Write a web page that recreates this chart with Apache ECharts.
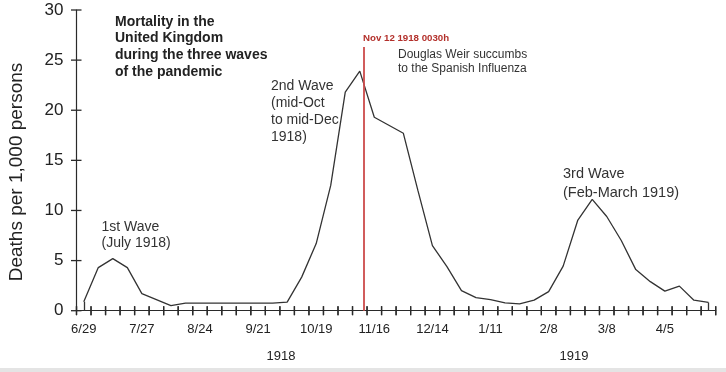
<!DOCTYPE html>
<html>
<head>
<meta charset="utf-8">
<script src="https://cdn.jsdelivr.net/npm/echarts@6/dist/echarts.min.js"></script>
<style>
html,body{margin:0;padding:0;background:#fff;}
#c{width:726px;height:372px;}
</style>
</head>
<body>
<div id="c"></div>
<script>
var categories = ['6/29','7/6','7/13','7/20','7/27','8/3','8/10','8/17','8/24','8/31','9/7','9/14','9/21','9/28','10/5','10/12','10/19','10/26','11/2','11/9','11/16','11/23','11/30','12/7','12/14','12/21','12/28','1/4','1/11','1/18','1/25','2/1','2/8','2/15','2/22','3/1','3/8','3/15','3/22','3/29','4/5','4/12','4/19','4/26'];
var deaths = [0.9,4.3,5.2,4.3,1.7,1.1,0.5,0.75,0.75,0.75,0.75,0.75,0.75,0.75,0.85,3.35,6.7,12.5,21.8,23.9,19.3,18.5,17.7,12.0,6.5,4.4,2.0,1.3,1.1,0.78,0.68,1.05,1.9,4.45,9.0,11.1,9.4,7.0,4.1,2.9,1.95,2.45,1.05,0.82];
var yTicks = [0,5,10,15,20,25,30];
var redLineX = 19.3;      // position of Nov 12 1918 on the week index scale
var redLineTop = 26.3;
var yearLabels = ['1918','1919'];

var FONT = "'Liberation Sans', Arial, Helvetica, sans-serif";
var chart = echarts.init(document.getElementById('c'), null, {renderer:'canvas'});
var lineColor = '#333333';
var axisColor = '#2a2a2a';
var N = categories.length;

// week boundaries on the hidden value axis (-0.5, 0.5, ... N-0.5)
var boundaries = [];
for (var b = 0; b <= N; b++) boundaries.push([b - 0.5, 0]);

function xTickItem(params, api){
  var p = api.coord([api.value(0), 0]);
  return {type:'line', shape:{x1:p[0],y1:p[1]-4.5,x2:p[0],y2:p[1]+4.5}, style:{stroke:axisColor, lineWidth:1.3}};
}
function yTickItem(params, api){
  var p = api.coord([0, api.value(1)]);
  var x0 = params.coordSys.x;
  return {type:'line', shape:{x1:x0-5.5,y1:p[1],x2:x0+5,y2:p[1]}, style:{stroke:axisColor, lineWidth:1.3}};
}

var option = {
  animation:false,
  backgroundColor:'#ffffff',
  grid:{left:76.5, right:10.3, top:10, bottom:61.3, containLabel:false},
  xAxis:[
    {type:'category', data:categories, boundaryGap:true, position:'bottom',
     axisLine:{show:true, onZero:false, lineStyle:{color:axisColor, width:1.2}},
     axisTick:{show:false},
     axisLabel:{show:true, interval:3, margin:12, fontSize:13, color:'#222', fontFamily:FONT},
     splitLine:{show:false}},
    {type:'value', min:-0.5, max:N-0.5, show:false}
  ],
  yAxis:[
    {type:'value', min:yTicks[0], max:yTicks[yTicks.length-1], interval:5, position:'left',
     axisLine:{show:true, onZero:false, lineStyle:{color:axisColor, width:1.2}},
     axisTick:{show:false},
     axisLabel:{margin:13, fontSize:17, color:'#222', fontFamily:FONT},
     splitLine:{show:false}}
  ],
  series:[
    {type:'line', data:deaths, xAxisIndex:0, yAxisIndex:0, symbol:'none', smooth:false,
     lineStyle:{color:lineColor, width:1.3}, z:3,
     markLine:{silent:true, symbol:['none','none'], label:{show:false},
       lineStyle:{color:lineColor, width:1.3, type:'solid'},
       data:[
         [{coord:[categories[0],0]},{coord:[categories[0],deaths[0]]}],
         [{coord:[categories[N-1],0]},{coord:[categories[N-1],deaths[N-1]]}]
       ]}},
    {type:'line', data:[], xAxisIndex:1, yAxisIndex:0, symbol:'none',
     markLine:{silent:true, symbol:['none','none'], label:{show:false},
       lineStyle:{color:'#cc4a4a', width:2, type:'solid', opacity:0.9},
       data:[[{coord:[redLineX,0]},{coord:[redLineX,redLineTop]}]]}, z:4},
    {type:'custom', xAxisIndex:1, yAxisIndex:0, silent:true, clip:false, z:5,
     data:boundaries, renderItem:xTickItem},
    {type:'custom', xAxisIndex:0, yAxisIndex:0, silent:true, clip:false, z:5,
     data:yTicks.map(function(v){return [0,v];}), renderItem:yTickItem}
  ],
  graphic:[
    {type:'text', x:17, y:172, rotation:Math.PI/2,
     style:{text:'Deaths per 1,000 persons', font:'19px '+FONT, fill:'#222', textAlign:'center', textVerticalAlign:'middle'}},
    {type:'text', x:115, y:13.3,
     style:{text:'Mortality in the\nUnited Kingdom\nduring the three waves\nof the pandemic', font:'bold 14px '+FONT, lineHeight:16.7, fill:'#222', textAlign:'left', textVerticalAlign:'top'}},
    {type:'text', x:363, y:38,
     style:{text:'Nov 12 1918 0030h', font:'bold 9.7px '+FONT, fill:'#b3302b', textAlign:'left', textVerticalAlign:'middle'}},
    {type:'text', x:398, y:48,
     style:{text:'Douglas Weir succumbs\nto the Spanish Influenza', font:'12px '+FONT, lineHeight:14, fill:'#333', textAlign:'left', textVerticalAlign:'top'}},
    {type:'text', x:271, y:78,
     style:{text:'2nd Wave\n(mid-Oct\nto mid-Dec\n1918)', font:'14px '+FONT, lineHeight:16.8, fill:'#333', textAlign:'left', textVerticalAlign:'top'}},
    {type:'text', x:101.5, y:218.3,
     style:{text:'1st Wave\n(July 1918)', font:'14px '+FONT, lineHeight:16.7, fill:'#333', textAlign:'left', textVerticalAlign:'top'}},
    {type:'text', x:563, y:165,
     style:{text:'3rd Wave\n(Feb-March 1919)', font:'14.5px '+FONT, lineHeight:18.4, fill:'#333', textAlign:'left', textVerticalAlign:'top'}},
    {type:'text', x:281, y:356,
     style:{text:yearLabels[0], font:'13px '+FONT, fill:'#222', textAlign:'center', textVerticalAlign:'middle'}},
    {type:'text', x:574, y:356,
     style:{text:yearLabels[1], font:'13px '+FONT, fill:'#222', textAlign:'center', textVerticalAlign:'middle'}},
    {type:'rect', shape:{x:0, y:368, width:726, height:4}, style:{fill:'#e4e4e4'}}
  ]
};
chart.setOption(option);

// Reinforce x-axis ticks using the library's own conversion of the week boundaries
try {
  var tickEls = [];
  for (var i = 0; i < boundaries.length; i++) {
    var pt = chart.convertToPixel({xAxisIndex:1, yAxisIndex:0}, boundaries[i]);
    if (pt && isFinite(pt[0]) && isFinite(pt[1])) {
      tickEls.push({type:'line', z:10, silent:true,
        shape:{x1:pt[0], y1:pt[1]-4.5, x2:pt[0], y2:pt[1]+4.5},
        style:{stroke:axisColor, lineWidth:1.3}});
    }
  }
  if (tickEls.length) {
    option.graphic = option.graphic.concat(tickEls);
    chart.setOption(option, true);
  }
} catch (e) {}
</script>
</body>
</html>
